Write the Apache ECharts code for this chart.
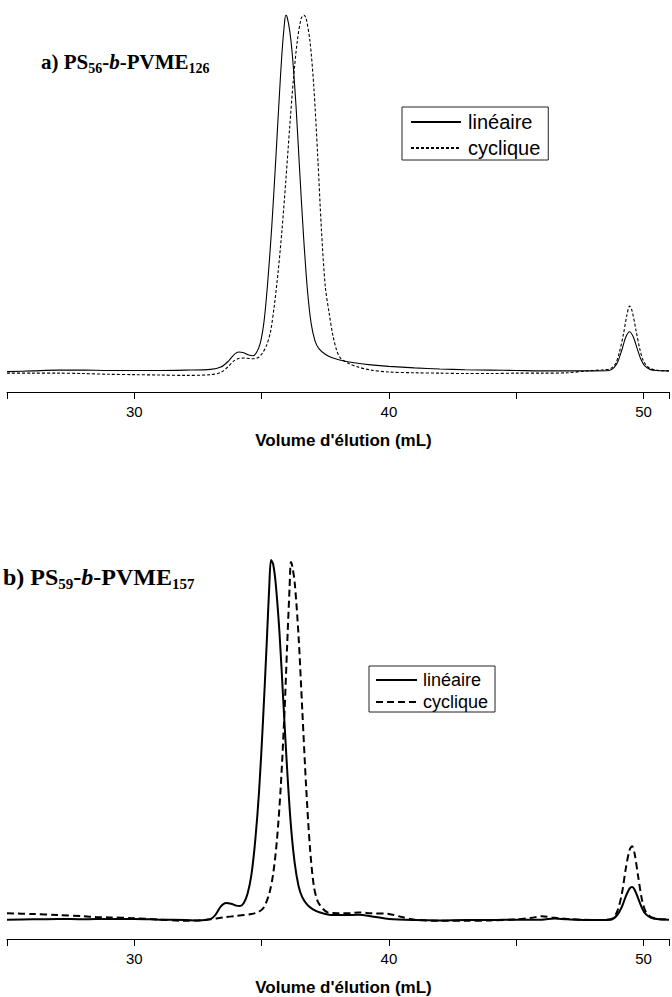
<!DOCTYPE html>
<html>
<head>
<meta charset="utf-8">
<script src="https://cdn.jsdelivr.net/npm/echarts@6/dist/echarts.min.js"></script>
<style>
html,body{margin:0;padding:0;background:#fff;}
#c{width:672px;height:997px;}
</style>
</head>
<body>
<div id="c"></div>
<script>
// x axis: elution volume (mL)
const xMin = 25, xMax = 51, xTickStep = 5;
const xLabelValues = [30, 40, 50];
const xAxisTitle = "Volume d'élution (mL)";
const seriesNames = ['linéaire', 'cyclique'];

// Panel a) PS56-b-PVME126 : [volume, normalised signal]
const linA = [[25,5.4],[26,5.6],[27,5.8],[28,5.8],[29,5.7],[30,5.7],[31,5.7],[32,5.8],[33,6.0],[33.4,6.6],[33.7,8.2],[33.9,9.8],[34.1,10.6],[34.3,10.4],[34.5,9.8],[34.65,9.6],[34.8,10.5],[34.95,13],[35.1,19],[35.25,30],[35.4,44],[35.55,61],[35.7,79],[35.8,90],[35.9,98],[35.95,100],[36.0,99.5],[36.1,96],[36.2,90],[36.35,76],[36.5,58],[36.65,41],[36.8,27],[36.95,18],[37.1,13.5],[37.25,11.5],[37.5,10],[37.8,9.0],[38.2,8.3],[38.7,7.7],[39.3,7.2],[40,6.8],[41,6.4],[42,6.1],[43,5.9],[44,5.8],[45,5.7],[46,5.6],[47,5.6],[48,5.6],[48.65,5.7],[48.85,6.5],[49.0,8.2],[49.15,11.2],[49.3,14.5],[49.45,16],[49.6,14.6],[49.75,11.5],[49.9,8.6],[50.05,6.9],[50.25,6.0],[50.5,5.7],[51,5.6]];
const cycA = [[25,5.0],[26,5.0],[27,5.0],[28,4.9],[29,4.7],[30,4.6],[31,4.5],[32,4.4],[33,4.6],[33.4,5.2],[33.7,6.8],[33.9,8.2],[34.1,8.9],[34.3,9.0],[34.5,8.9],[34.7,8.8],[34.9,9.3],[35.05,10.5],[35.2,12.5],[35.35,16],[35.5,23],[35.65,32],[35.8,43],[35.95,56],[36.1,70],[36.25,83],[36.4,93],[36.55,99],[36.66,100],[36.75,99],[36.9,93],[37.05,81],[37.2,63],[37.35,43],[37.5,28],[37.65,21],[37.8,15],[37.95,11],[38.1,9.0],[38.4,7.6],[38.8,6.6],[39.3,5.8],[40,5.3],[41,5.1],[42,5.0],[43,4.9],[44,4.9],[45,5.0],[46,5.0],[47,5.1],[47.8,5.6],[48.4,5.9],[48.7,6.2],[48.9,7.5],[49.05,10.5],[49.2,15],[49.35,20.5],[49.45,22.8],[49.55,21.5],[49.7,16.5],[49.85,11.5],[50.0,8.2],[50.2,6.5],[50.5,5.8],[51,5.6]];

// Panel b) PS59-b-PVME157
const linB = [[25,5.1],[26,5.2],[27,5.3],[28,5.2],[29,5.3],[30,5.3],[31,5.1],[32,5.0],[32.5,4.9],[33.0,5.3],[33.2,6.5],[33.4,8.6],[33.6,9.5],[33.8,9.3],[34.0,8.8],[34.15,8.7],[34.3,9.5],[34.45,12],[34.6,17],[34.75,26],[34.9,39],[35.05,57],[35.2,78],[35.3,93],[35.37,100],[35.45,99],[35.55,94],[35.7,81],[35.85,63],[36.0,45],[36.15,30],[36.3,20],[36.45,14],[36.6,11],[36.8,9],[37.0,7.9],[37.3,7.0],[37.8,6.3],[38.3,6.3],[38.8,6.4],[39.4,5.9],[40,5.3],[41,5.0],[42,4.9],[43,5.0],[44,5.0],[45,5.1],[46,5.1],[46.5,5.4],[47,5.2],[48,5.0],[48.7,5.1],[48.95,6.2],[49.15,8.5],[49.3,11.2],[49.45,13.3],[49.55,13.7],[49.65,13.0],[49.8,10.5],[49.95,8.0],[50.1,6.5],[50.3,5.6],[50.6,5.2],[51,5.1]];
const cycB = [[25,6.8],[26,6.6],[27,6.3],[28,6.0],[28.5,5.8],[29,5.7],[30,5.5],[31,5.1],[32,4.8],[32.5,4.9],[33,5.2],[33.5,5.7],[34.0,6.1],[34.6,6.6],[34.9,7.2],[35.1,8.5],[35.3,12],[35.45,17],[35.6,26],[35.75,40],[35.9,60],[36.0,77],[36.1,93],[36.15,99.5],[36.2,98.5],[36.3,94],[36.45,80],[36.6,60],[36.75,40],[36.9,24],[37.05,14],[37.2,10],[37.4,8.0],[37.6,7.0],[38.0,6.8],[38.5,6.8],[38.8,7.0],[39.3,6.8],[40.0,6.6],[40.5,5.8],[41,5.1],[42,4.8],[43,4.8],[44,4.9],[45,5.2],[45.6,5.6],[46,6.0],[46.5,5.6],[47,5.3],[48,5.0],[48.7,5.2],[48.95,7.0],[49.15,12],[49.3,18.5],[49.45,23.5],[49.55,24.5],[49.65,22.5],[49.8,16],[49.95,10],[50.1,7.0],[50.3,5.8],[50.6,5.3],[51,5.2]];

const ZW = '\u200b';
const chart = echarts.init(document.getElementById('c'), null, {renderer: 'svg'});

function xAxisDef(gi) {
  return {
    gridIndex: gi, type: 'value', min: xMin, max: xMax, interval: xTickStep,
    axisLine: {lineStyle: {color: '#000', width: 1}},
    axisTick: {length: 7, lineStyle: {color: '#000', width: 1}},
    splitLine: {show: false},
    axisLabel: {
      margin: 12, color: '#000', fontSize: 15, fontFamily: 'Liberation Sans, Arial, sans-serif',
      formatter: v => xLabelValues.indexOf(v) >= 0 ? String(v) : ''
    },
    name: xAxisTitle, nameLocation: 'middle', nameGap: 40,
    nameTextStyle: {fontWeight: 'bold', fontSize: 17, color: '#000', fontFamily: 'Liberation Sans, Arial, sans-serif', padding: [0, 0, 0, 11]}
  };
}
function yAxisDef(gi) {
  return {gridIndex: gi, type: 'value', min: 0, max: 100, show: false};
}
function titleRich(F, Fs, LH) {
  const fam = 'Liberation Serif, Times New Roman, serif';
  return {
    m: {fontFamily: fam, fontWeight: 'bold', fontSize: F, lineHeight: LH, color: '#000', verticalAlign: 'middle'},
    i: {fontFamily: fam, fontWeight: 'bold', fontStyle: 'italic', fontSize: F, lineHeight: LH, color: '#000', verticalAlign: 'middle'},
    s: {fontFamily: fam, fontWeight: 'bold', fontSize: Fs, lineHeight: Fs, color: '#000', verticalAlign: 'bottom'}
  };
}
const legendFont = 'Liberation Sans, Arial, sans-serif';

chart.setOption({
  animation: false,
  backgroundColor: '#fff',
  title: [
    {left: 41, top: 49, padding: 0, text: '{m|a) PS}{s|56}{m|-}{i|b}{m|-PVME}{s|126}', textStyle: {rich: titleRich(21, 14, 26)}},
    {left: 3, top: 563, padding: 0, text: '{m|b) PS}{s|59}{m|-}{i|b}{m|-PVME}{s|157}', textStyle: {rich: titleRich(24, 15, 28)}}
  ],
  grid: [
    {left: 7, top: 15, width: 667, height: 377},
    {left: 7, top: 560, width: 667, height: 380}
  ],
  xAxis: [xAxisDef(0), xAxisDef(1)],
  yAxis: [yAxisDef(0), yAxisDef(1)],
  legend: [
    {
      orient: 'vertical', left: 402, top: 107, padding: [5, 8, 2, 8], itemGap: 6,
      itemWidth: 50, itemHeight: 14, borderColor: '#222', borderWidth: 1,
      itemStyle: {opacity: 0},
      data: [seriesNames[0], seriesNames[1]],
      textStyle: {fontSize: 20, lineHeight: 20, color: '#000', fontFamily: legendFont, padding: [0, 0, 0, 2]}
    },
    {
      orient: 'vertical', left: 369, top: 666, padding: [5, 7, 1, 6], itemGap: 4,
      itemWidth: 41, itemHeight: 14, borderColor: '#222', borderWidth: 1,
      itemStyle: {opacity: 0},
      data: [seriesNames[0] + ZW, seriesNames[1] + ZW],
      formatter: n => n.replace(ZW, ''),
      textStyle: {fontSize: 18, lineHeight: 18, color: '#000', fontFamily: legendFont, padding: [0, 0, 0, 1]}
    }
  ],
  series: [
    {name: seriesNames[0], type: 'line', xAxisIndex: 0, yAxisIndex: 0, data: linA, symbol: 'none', smooth: 0.3,
     lineStyle: {color: '#000', width: 1.1, type: 'solid'}, itemStyle: {color: '#000'}},
    {name: seriesNames[1], type: 'line', xAxisIndex: 0, yAxisIndex: 0, data: cycA, symbol: 'none', smooth: 0.3,
     lineStyle: {color: '#000', width: 1.1, type: [3, 2]}, itemStyle: {color: '#000'}},
    {name: seriesNames[0] + ZW, type: 'line', xAxisIndex: 1, yAxisIndex: 1, data: linB, symbol: 'none', smooth: 0.3,
     lineStyle: {color: '#000', width: 2, type: 'solid'}, itemStyle: {color: '#000'}},
    {name: seriesNames[1] + ZW, type: 'line', xAxisIndex: 1, yAxisIndex: 1, data: cycB, symbol: 'none', smooth: 0.3,
     lineStyle: {color: '#000', width: 2, type: [7, 4]}, itemStyle: {color: '#000'}}
  ]
});
</script>
</body>
</html>
